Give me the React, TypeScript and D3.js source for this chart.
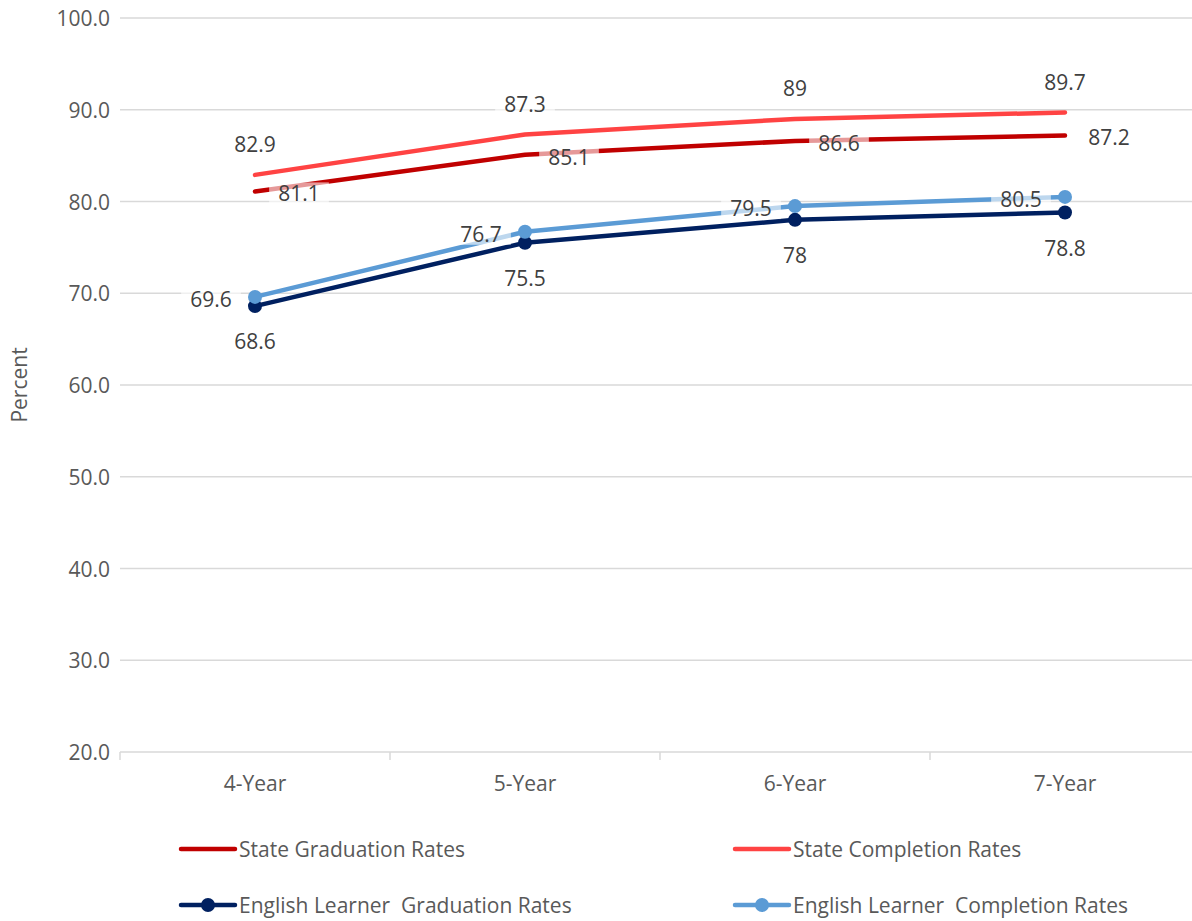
import React from "react";
import * as d3 from "d3";

const categories = ["4-Year", "5-Year", "6-Year", "7-Year"];
const stateGrad = [81.1, 85.1, 86.6, 87.2];
const stateComp = [82.9, 87.3, 89, 89.7];
const elGrad = [68.6, 75.5, 78, 78.8];
const elComp = [69.6, 76.7, 79.5, 80.5];
const yTicks = [20, 30, 40, 50, 60, 70, 80, 90, 100];

type Series = {
  name: string;
  values: number[];
  color: string;
  marker: boolean;
  labelPos: "right" | "above" | "below" | "left";
};

const series: Series[] = [
  { name: "State Graduation Rates", values: stateGrad, color: "#C00000", marker: false, labelPos: "right" },
  { name: "State Completion Rates", values: stateComp, color: "#FF4343", marker: false, labelPos: "above" },
  { name: "English Learner  Graduation Rates", values: elGrad, color: "#002060", marker: true, labelPos: "below" },
  { name: "English Learner  Completion Rates", values: elComp, color: "#5B9BD5", marker: true, labelPos: "left" },
];

const W = 1192;
const H = 921;
const FONT = "'Open Sans', 'Noto Sans', sans-serif";
const FS = 21;

export default function App() {
  const x = d3.scaleBand<string>().domain(categories).range([120, 1200]).padding(0);
  const cx = (c: string) => (x(c) as number) + x.bandwidth() / 2;
  const y = d3.scaleLinear().domain([20, 100]).range([752, 18]);
  const line = d3
    .line<number>()
    .x((_, i) => cx(categories[i]))
    .y((v) => y(v))
    .curve(d3.curveLinear);

  const charW = (s: string) => {
    let w = 0;
    for (const ch of s) w += ch === "." ? 0.27 : 0.572;
    return w * FS;
  };

  const labels: { x: number; y: number; text: string }[] = [];
  series.forEach((s) => {
    s.values.forEach((v, i) => {
      const px = cx(categories[i]);
      const py = y(v);
      let lx = px, ly = py;
      if (s.labelPos === "right") { lx = px + 44; ly = py + 2; }
      if (s.labelPos === "left") { lx = px - 44; ly = py + 2; }
      if (s.labelPos === "above") { lx = px; ly = py - 31; }
      if (s.labelPos === "below") { lx = px; ly = py + 35; }
      labels.push({ x: lx, y: ly, text: String(v) });
    });
  });

  const legendItems = [
    { s: series[0], x: 181, y: 849 },
    { s: series[1], x: 735, y: 849 },
    { s: series[2], x: 181, y: 905 },
    { s: series[3], x: 735, y: 905 },
  ];

  return (
    <svg width={W} height={H} style={{ position: "absolute", left: 0, top: 0, background: "#fff" }} fontFamily={FONT}>
      <rect width={W} height={H} fill="#fff" />
      {yTicks.map((t) => (
        <g key={t}>
          <line x1={120} x2={W} y1={y(t)} y2={y(t)} stroke="#D9D9D9" strokeWidth={1.5} />
          <text x={110} y={y(t)} textAnchor="end" dominantBaseline="central" fontSize={FS} fill="#595959">
            {t.toFixed(1)}
          </text>
        </g>
      ))}
      {categories.map((c) => (
        <line key={c} x1={x(c) as number} x2={x(c) as number} y1={752} y2={760} stroke="#D9D9D9" strokeWidth={1.5} />
      ))}
      {categories.map((c) => (
        <text key={c} x={cx(c)} y={783} textAnchor="middle" dominantBaseline="central" fontSize={FS} fill="#595959">
          {c}
        </text>
      ))}
      <text
        transform={`translate(19,385) rotate(-90)`}
        textAnchor="middle"
        dominantBaseline="central"
        fontSize={FS}
        fill="#595959"
      >
        Percent
      </text>
      {series.map((s) => (
        <g key={s.name}>
          <path d={line(s.values) || ""} fill="none" stroke={s.color} strokeWidth={4.5} strokeLinecap="round" strokeLinejoin="round" />
          {s.marker &&
            s.values.map((v, i) => <circle key={i} cx={cx(categories[i])} cy={y(v)} r={7} fill={s.color} />)}
        </g>
      ))}
      {labels.map((l, i) => {
        const w = charW(l.text) + 18;
        return (
          <g key={i}>
            <rect x={l.x - w / 2} y={l.y - 11} width={w} height={22} fill="#fff" opacity={0.6} />
            <text x={l.x} y={l.y} textAnchor="middle" dominantBaseline="central" fontSize={FS} fill="#404040">
              {l.text}
            </text>
          </g>
        );
      })}
      {legendItems.map(({ s, x: lx, y: ly }) => (
        <g key={s.name}>
          <line x1={lx} x2={lx + 54} y1={ly} y2={ly} stroke={s.color} strokeWidth={4.5} strokeLinecap="round" />
          {s.marker && <circle cx={lx + 27} cy={ly} r={7} fill={s.color} />}
          <text x={lx + 58} y={ly} dominantBaseline="central" fontSize={FS} fill="#595959" style={{ whiteSpace: "pre" }}>
            {s.name}
          </text>
        </g>
      ))}
    </svg>
  );
}
